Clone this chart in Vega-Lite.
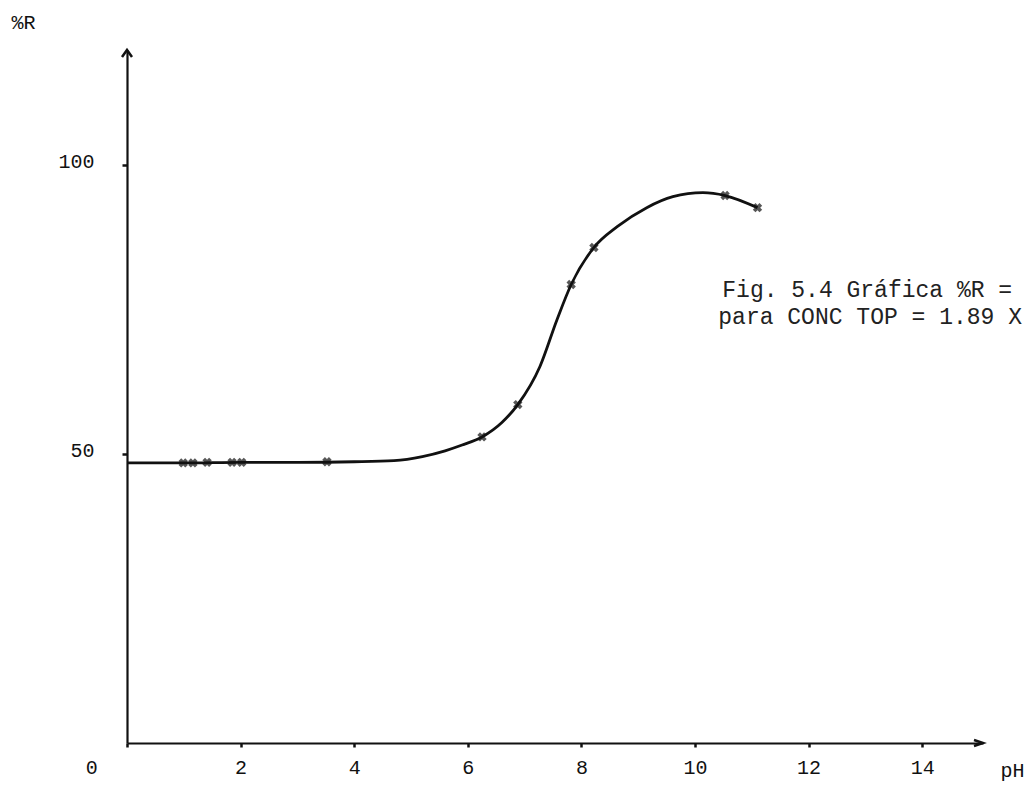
{
  "$schema": "https://vega.github.io/schema/vega-lite/v6.json",
  "width": 856,
  "height": 693,
  "autosize": {"type": "none"},
  "padding": {"left": 127, "top": 50, "right": 52, "bottom": 45},
  "background": "white",
  "config": {"view": {"stroke": null}, "font": "Liberation Mono"},
  "datasets": {
    "curve": [
      {"ph": 0.0, "r": 48.5}, {"ph": 1.0, "r": 48.5}, {"ph": 2.0, "r": 48.6}, {"ph": 3.0, "r": 48.6},
      {"ph": 4.0, "r": 48.7}, {"ph": 4.7, "r": 48.9}, {"ph": 5.2, "r": 49.6}, {"ph": 5.6, "r": 50.6},
      {"ph": 5.9, "r": 51.6}, {"ph": 6.25, "r": 53.0}, {"ph": 6.6, "r": 55.5}, {"ph": 6.88, "r": 58.6},
      {"ph": 7.27, "r": 65.2}, {"ph": 7.57, "r": 73.3}, {"ph": 7.82, "r": 79.4}, {"ph": 8.22, "r": 85.8},
      {"ph": 8.63, "r": 89.4}, {"ph": 9.15, "r": 92.7}, {"ph": 9.61, "r": 94.6}, {"ph": 10.14, "r": 95.3},
      {"ph": 10.53, "r": 94.8}, {"ph": 11.1, "r": 92.7}
    ],
    "points": [
      {"ph": 0.99, "r": 48.5}, {"ph": 1.16, "r": 48.5}, {"ph": 1.41, "r": 48.6}, {"ph": 1.85, "r": 48.6},
      {"ph": 2.02, "r": 48.6}, {"ph": 3.52, "r": 48.7}, {"ph": 6.25, "r": 53.0}, {"ph": 6.88, "r": 58.6},
      {"ph": 7.82, "r": 79.4}, {"ph": 8.22, "r": 85.8}, {"ph": 10.53, "r": 94.8}, {"ph": 11.1, "r": 92.7}
    ],
    "notes": [
      {"ph": 10.48, "r": 78.5, "t": "Fig. 5.4 Gráfica %R ="},
      {"ph": 10.41, "r": 73.7, "t": "para CONC TOP = 1.89 X"}
    ],
    "origin": [{"ph": -0.62, "r": -4.3, "t": "0"}],
    "yarrow": [{"ph": 0, "r": 120}],
    "xarrow": [{"ph": 15.07, "r": 0}]
  },
  "layer": [
    {
      "data": {"name": "curve"},
      "mark": {"type": "line", "interpolate": "monotone", "color": "#111111", "strokeWidth": 2.8},
      "encoding": {
        "x": {
          "field": "ph", "type": "quantitative",
          "scale": {"domain": [0, 15.07], "nice": false, "zero": false},
          "axis": {
            "values": [0, 2, 4, 6, 8, 10, 12, 14],
            "format": "d",
            "labelExpr": "datum.value == 0 ? '' : datum.label",
            "grid": false, "domainColor": "#111111", "domainWidth": 2.2,
            "tickColor": "#111111", "tickWidth": 2.5, "tickSize": 4,
            "labelFont": "Liberation Mono", "labelFontSize": 20, "labelColor": "#111111",
            "labelPadding": 10, "labelFlush": false,
            "title": "pH", "titleFont": "Liberation Mono", "titleFontSize": 20,
            "titleFontWeight": "normal", "titleColor": "#111111",
            "titleX": 873, "titleY": 27, "titleAlign": "left", "titleBaseline": "middle", "titleAngle": 0
          }
        },
        "y": {
          "field": "r", "type": "quantitative",
          "scale": {"domain": [0, 120], "nice": false},
          "axis": {
            "values": [50, 100],
            "format": "d",
            "grid": false, "domainColor": "#111111", "domainWidth": 2.2,
            "tickColor": "#111111", "tickWidth": 2.5, "tickSize": 5,
            "labelFont": "Liberation Mono", "labelFontSize": 20, "labelColor": "#111111",
            "labelPadding": 28, "labelBaseline": "middle", "labelOffset": -4,
            "title": "%R", "titleFont": "Liberation Mono", "titleFontSize": 20,
            "titleFontWeight": "normal", "titleColor": "#111111",
            "titleX": -116, "titleY": -28, "titleAlign": "left", "titleBaseline": "middle", "titleAngle": 0
          }
        }
      }
    },
    {
      "data": {"name": "points"},
      "mark": {"type": "point", "shape": "cross", "angle": 45, "filled": true, "color": "#111111", "size": 90},
      "encoding": {
        "x": {"field": "ph", "type": "quantitative"},
        "y": {"field": "r", "type": "quantitative"}
      }
    },
    {
      "data": {"name": "notes"},
      "mark": {"type": "text", "align": "left", "baseline": "middle", "font": "Liberation Mono", "fontSize": 23, "color": "#222222"},
      "encoding": {
        "x": {"field": "ph", "type": "quantitative"},
        "y": {"field": "r", "type": "quantitative"},
        "text": {"field": "t"}
      }
    },
    {
      "data": {"name": "origin"},
      "mark": {"type": "text", "align": "center", "baseline": "middle", "font": "Liberation Mono", "fontSize": 20, "color": "#111111"},
      "encoding": {
        "x": {"field": "ph", "type": "quantitative"},
        "y": {"field": "r", "type": "quantitative"},
        "text": {"field": "t"}
      }
    },
    {
      "data": {"name": "yarrow"},
      "mark": {"type": "point", "shape": "M -0.5 0.7 L 0 0 L 0.5 0.7", "filled": false, "color": "#111111", "strokeWidth": 2.5, "size": 400, "opacity": 1},
      "encoding": {
        "x": {"field": "ph", "type": "quantitative"},
        "y": {"field": "r", "type": "quantitative"}
      }
    },
    {
      "data": {"name": "xarrow"},
      "mark": {"type": "point", "shape": "M -0.9 -0.3 L 0 0 L -0.9 0.3", "filled": false, "color": "#111111", "strokeWidth": 2.5, "size": 400, "opacity": 1},
      "encoding": {
        "x": {"field": "ph", "type": "quantitative"},
        "y": {"field": "r", "type": "quantitative"}
      }
    }
  ]
}
